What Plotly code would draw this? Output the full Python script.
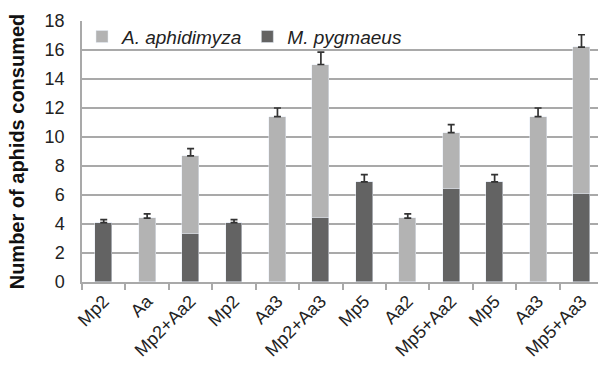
import plotly.graph_objects as go

categories = ["Mp2", "Aa", "Mp2+Aa2", "Mp2", "Aa3", "Mp2+Aa3", "Mp5", "Aa2",
              "Mp5+Aa2", "Mp5", "Aa3", "Mp5+Aa3"]
m_pygmaeus = [4.1, 0, 3.3, 4.1, 0, 4.4, 6.9, 0, 6.4, 6.9, 0, 6.1]
a_aphidimyza = [0, 4.4, 5.4, 0, 11.4, 10.6, 0, 4.4, 3.9, 0, 11.4, 10.1]
totals = [4.1, 4.4, 8.7, 4.1, 11.4, 15.0, 6.9, 4.4, 10.3, 6.9, 11.4, 16.2]
errors = [0.2, 0.3, 0.5, 0.2, 0.6, 0.85, 0.5, 0.3, 0.55, 0.5, 0.6, 0.85]

xpos = list(range(len(categories)))
boundaries = [i - 0.5 for i in range(len(categories) + 1)]
DARK = "#636363"
LIGHT = "#b3b3b3"
AXIS = "#a9a9a9"
FONT = "Arial"

fig = go.Figure()
fig.add_trace(go.Bar(x=xpos, y=m_pygmaeus, marker_color=DARK, width=0.39,
                     name="<i>M. pygmaeus</i>", legendrank=2))
fig.add_trace(go.Bar(x=xpos, y=a_aphidimyza, marker_color=LIGHT, width=0.39,
                     name="<i>A. aphidimyza</i>", legendrank=1))
fig.add_trace(go.Scatter(x=xpos, y=totals, mode="markers",
                         marker=dict(opacity=0, size=1), showlegend=False,
                         hoverinfo="skip",
                         error_y=dict(type="data", symmetric=False, array=errors,
                                      arrayminus=[0] * len(errors),
                                      color="#333333", thickness=1.7, width=3.5)))

fig.update_layout(
    width=598, height=370,
    margin=dict(l=82, r=0, t=21, b=88, autoexpand=False),
    barmode="stack",
    bargap=0,
    plot_bgcolor="white", paper_bgcolor="white",
    font=dict(family=FONT, size=18, color="#222222"),
    legend=dict(orientation="h", traceorder="normal", x=0.0, y=0.94,
                xanchor="left", yanchor="middle",
                bgcolor="rgba(0,0,0,0)", font=dict(size=19)),
    xaxis=dict(type="linear", range=[-0.5, 11.38], tickmode="array",
               tickvals=xpos, ticktext=categories, tickangle=-45,
               tickfont=dict(size=18),
               showgrid=False, showline=True, linecolor=AXIS, linewidth=1.5,
               ticks="", zeroline=False,
               minor=dict(tickmode="array", tickvals=boundaries, ticks="outside",
                          ticklen=6, tickcolor=AXIS, tickwidth=1.5,
                          showgrid=False)),
    yaxis=dict(range=[0, 18], dtick=2, showgrid=True, gridcolor=AXIS,
               gridwidth=1.5, showline=True, linecolor=AXIS, linewidth=1.5,
               ticks="outside", ticklen=12, tickcolor="rgba(0,0,0,0)",
               zeroline=False, tickfont=dict(size=18),
               title=dict(text="<b>Number of aphids consumed</b>",
                          font=dict(size=20, color="#111111"))),
)

fig.write_html("out.html")
